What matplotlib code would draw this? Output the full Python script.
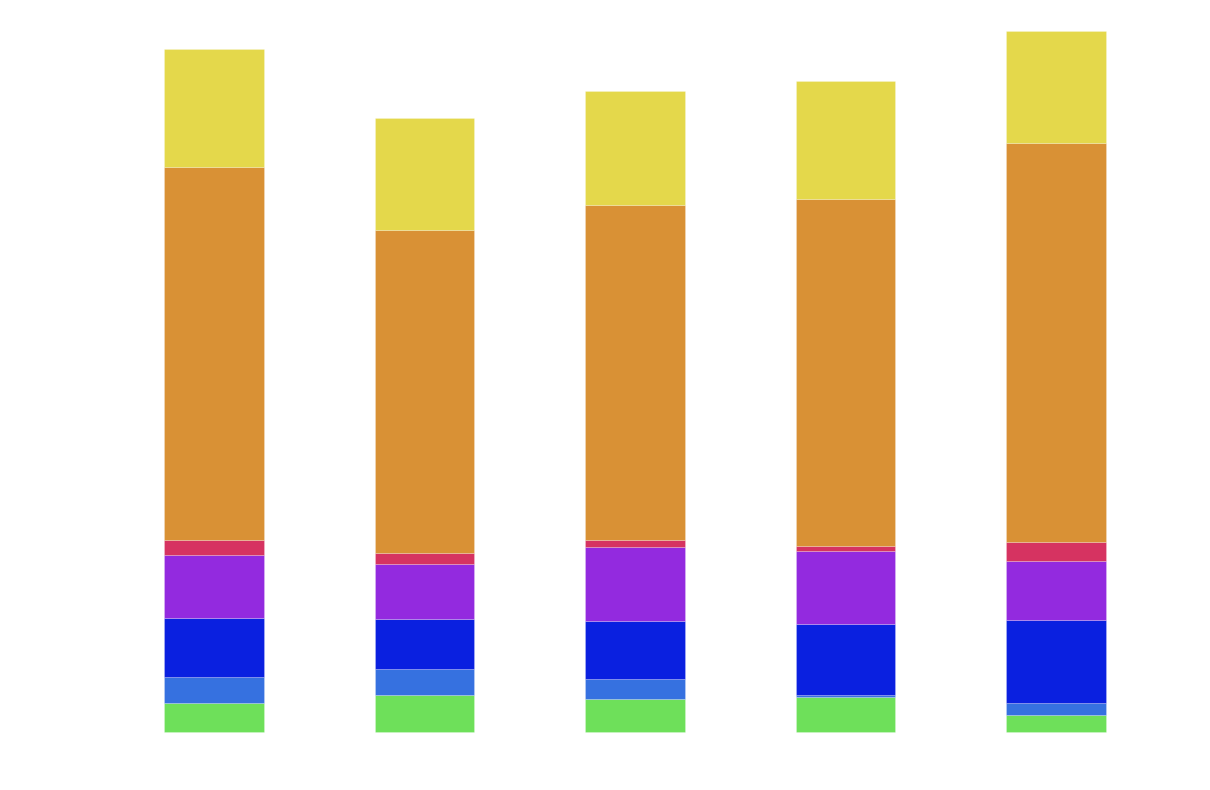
'''
Stacked bar chart, no axes or labels
'''

import matplotlib.pyplot as plt
import numpy as np

# data (bottom to top)
categories = ['A', 'B', 'C', 'D', 'E']
green = [29, 37, 33, 35, 17]
light_blue = [26, 26, 20, 2, 12]
blue = [59, 50, 58, 71, 83]
purple = [63, 55, 74, 73, 59]
red = [15, 11, 7, 5, 19]
orange = [373, 323, 335, 347, 399]
yellow = [118, 112, 114, 118, 112]

series = [green, light_blue, blue, purple, red, orange, yellow]
colors = ['#6EE05A', '#3671E0', '#0A20E0', '#932ADF', '#D63361', '#D99135', '#E4D84B']
##########

fig = plt.figure(figsize=(12.1, 7.9), dpi=100)
ax = fig.add_axes([0, 0, 1, 1])

x = np.arange(len(categories))
bottom = np.zeros(len(categories))
for vals, col in zip(series, colors):
    ax.bar(x, vals, width=0.475, bottom=bottom, color=col,
           edgecolor=(1, 1, 1, 0.3), linewidth=0.5)
    bottom += np.array(vals)

ax.set_xlim(-214 / 210.5, (1210 - 214) / 210.5)
ax.set_ylim(-58, 732)
ax.axis('off')

fig.savefig('out.png', dpi=100)
